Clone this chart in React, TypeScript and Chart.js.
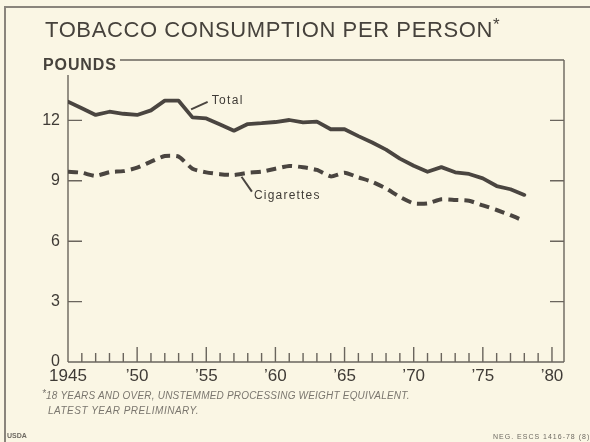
import React, { useEffect, useRef } from 'react';
import { Chart, registerables } from 'chart.js';

Chart.register(...registerables);

// ---- Data ----
const years = [
  1945, 1946, 1947, 1948, 1949, 1950, 1951, 1952, 1953, 1954, 1955, 1956,
  1957, 1958, 1959, 1960, 1961, 1962, 1963, 1964, 1965, 1966, 1967, 1968,
  1969, 1970, 1971, 1972, 1973, 1974, 1975, 1976, 1977, 1978,
];
const totalValues = [
  12.93, 12.6, 12.27, 12.43, 12.33, 12.27, 12.5, 12.98, 12.98, 12.15, 12.1, 11.8,
  11.49, 11.82, 11.86, 11.92, 12.02, 11.9, 11.94, 11.56, 11.56, 11.22, 10.9, 10.55,
  10.1, 9.75, 9.45, 9.68, 9.42, 9.34, 9.12, 8.74, 8.58, 8.3,
];
const cigaretteValues = [
  9.45, 9.4, 9.24, 9.43, 9.48, 9.65, 9.95, 10.23, 10.2, 9.6, 9.42, 9.33,
  9.29, 9.4, 9.45, 9.6, 9.74, 9.67, 9.54, 9.22, 9.4, 9.17, 8.95, 8.62,
  8.2, 7.88, 7.88, 8.08, 8.05, 8.01, 7.78, 7.55, 7.29, 7.0,
];
const yTickValues = [0, 3, 6, 9, 12];
const xLabelYears = [1945, 1950, 1955, 1960, 1965, 1970, 1975, 1980];
const xLabels = ['1945', '\u201950', '\u201955', '\u201960', '\u201965', '\u201970', '\u201975', '\u201980'];
const minorTickYears = [
  1946, 1947, 1948, 1949, 1950, 1951, 1952, 1953, 1954, 1955, 1956, 1957, 1958,
  1959, 1960, 1961, 1962, 1963, 1964, 1965, 1966, 1967, 1968, 1969, 1970, 1971,
  1972, 1973, 1974, 1975, 1976, 1977, 1978, 1979, 1980,
];

// label anchors in data coordinates: [x, y]
const totalLabel = { text: 'Total', from: [1953.9, 12.55], to: [1955.1, 12.92], at: [1955.4, 12.97] };
const cigLabel = { text: 'Cigarettes', from: [1957.55, 9.2], to: [1958.3, 8.46], at: [1958.45, 8.27] };

const BG = '#faf6e4';
const INK = '#4a4540';
const AXIS = '#6a655d';
const TEXT = '#3f3b36';

const framePlugin = {
  id: 'frameTicks',
  beforeDatasetsDraw(chart: any) {
    const { ctx, chartArea } = chart;
    const xs = chart.scales.x;
    const ys = chart.scales.y;
    const { left, right, top, bottom } = chartArea;
    ctx.save();
    ctx.strokeStyle = AXIS;
    ctx.lineWidth = 1.4;
    ctx.beginPath();
    // left axis (starts a little below the top rule)
    ctx.moveTo(left, top + 15);
    ctx.lineTo(left, bottom);
    // bottom axis
    ctx.moveTo(left, bottom);
    ctx.lineTo(right, bottom);
    // right border
    ctx.moveTo(right, top);
    ctx.lineTo(right, bottom);
    // top rule, starting after the "POUNDS" label
    ctx.moveTo(120, top);
    ctx.lineTo(right, top);
    // inward y ticks, both sides
    yTickValues.forEach((v) => {
      if (v === 0) return;
      const y = ys.getPixelForValue(v);
      ctx.moveTo(left, y);
      ctx.lineTo(left + 14, y);
      ctx.moveTo(right, y);
      ctx.lineTo(right - 14, y);
    });
    // inward x ticks, yearly, taller every five years
    minorTickYears.forEach((yr) => {
      const x = xs.getPixelForValue(yr);
      const len = yr % 5 === 0 ? 15 : 9;
      ctx.moveTo(x, bottom);
      ctx.lineTo(x, bottom - len);
    });
    ctx.stroke();
    ctx.restore();
  },
  afterDatasetsDraw(chart: any) {
    const { ctx } = chart;
    const xs = chart.scales.x;
    const ys = chart.scales.y;
    ctx.save();
    ctx.strokeStyle = INK;
    ctx.fillStyle = TEXT;
    ctx.lineWidth = 2;
    [totalLabel, cigLabel].forEach((l) => {
      ctx.beginPath();
      ctx.moveTo(xs.getPixelForValue(l.from[0]), ys.getPixelForValue(l.from[1]));
      ctx.lineTo(xs.getPixelForValue(l.to[0]), ys.getPixelForValue(l.to[1]));
      ctx.stroke();
      ctx.font = '12px "Liberation Sans", Arial, sans-serif';
      (ctx as any).letterSpacing = l.text === 'Total' ? '1.3px' : '1.2px';
      ctx.textBaseline = 'middle';
      ctx.textAlign = 'left';
      ctx.fillText(l.text, xs.getPixelForValue(l.at[0]), ys.getPixelForValue(l.at[1]));
    });
    ctx.restore();
  },
};

function TobaccoChart() {
  const ref = useRef<HTMLCanvasElement | null>(null);
  useEffect(() => {
    if (!ref.current) return;
    const chart = new Chart(ref.current, {
      type: 'line',
      data: {
        datasets: [
          {
            label: 'Total',
            data: years.map((y, i) => ({ x: y, y: totalValues[i] })),
            borderColor: INK,
            borderWidth: 3.8,
            pointRadius: 0,
            tension: 0,
            borderJoinStyle: 'round',
            borderCapStyle: 'round',
            fill: false,
          },
          {
            label: 'Cigarettes',
            data: years.map((y, i) => ({ x: y, y: cigaretteValues[i] })),
            borderColor: INK,
            borderWidth: 4,
            borderDash: [10, 6],
            pointRadius: 0,
            tension: 0.2,
            borderCapStyle: 'butt',
            fill: false,
          },
        ],
      },
      options: {
        animation: false,
        responsive: false,
        devicePixelRatio: 1,
        layout: { padding: { left: 0, top: 60, right: 26, bottom: 0 } },
        plugins: { legend: { display: false }, tooltip: { enabled: false }, title: { display: false } },
        scales: {
          x: {
            type: 'linear',
            min: 1945,
            max: 1980.87,
            afterBuildTicks: (scale: any) => {
              scale.ticks = xLabelYears.map((v) => ({ value: v }));
            },
            afterFit: (scale: any) => {
              scale.height = 80;
            },
            ticks: {
              autoSkip: false,
              maxRotation: 0,
              padding: 4,
              color: TEXT,
              font: { family: '"Liberation Sans", Arial, sans-serif', size: 17 },
              callback: (v: any) => {
                const i = xLabelYears.indexOf(Number(v));
                return i >= 0 ? xLabels[i] : '';
              },
            },
            grid: { display: false, drawTicks: false },
            border: { display: false },
          },
          y: {
            type: 'linear',
            min: 0,
            max: 15,
            afterBuildTicks: (scale: any) => {
              scale.ticks = yTickValues.map((v) => ({ value: v }));
            },
            afterFit: (scale: any) => {
              scale.width = 68;
            },
            ticks: {
              padding: 8,
              color: TEXT,
              font: { family: '"Liberation Sans", Arial, sans-serif', size: 16 },
            },
            grid: { display: false, drawTicks: false },
            border: { display: false },
          },
        },
      },
      plugins: [framePlugin],
    } as any);
    return () => chart.destroy();
  }, []);
  return <canvas ref={ref} width={590} height={442} style={{ position: 'absolute', left: 0, top: 0, width: 590, height: 442 }} />;
}

export default function App() {
  const base: React.CSSProperties = {
    position: 'absolute',
    fontFamily: '"Liberation Sans", Arial, sans-serif',
    whiteSpace: 'nowrap',
    margin: 0,
  };
  return (
    <div style={{ position: 'absolute', left: 0, top: 0, width: 590, height: 442, background: BG, overflow: 'hidden' }}>
      {/* outer frame */}
      <div style={{ position: 'absolute', left: 4, top: 6, width: 600, height: 500, borderLeft: '2px solid #8a857c', borderTop: '2px solid #8a857c' }} />
      <TobaccoChart />
      <div style={{ ...base, left: 45, top: 19, fontSize: 22, lineHeight: '22px', letterSpacing: '0.6px', color: '#46423c' }}>
        TOBACCO CONSUMPTION PER PERSON
        <span style={{ position: 'relative', top: -7, fontSize: 17, letterSpacing: 0 }}>*</span>
      </div>
      <div style={{ ...base, left: 43, top: 57, fontSize: 16, lineHeight: '16px', fontWeight: 'bold', letterSpacing: '0.9px', color: '#46423c' }}>
        POUNDS
      </div>
      <div style={{ ...base, left: 42, top: 391, fontSize: 10, lineHeight: '10px', fontStyle: 'italic', letterSpacing: '0.2px', color: '#7a766e' }}>
        <span style={{ position: 'relative', top: -2 }}>*</span>18 YEARS AND OVER, UNSTEMMED PROCESSING WEIGHT EQUIVALENT.
      </div>
      <div style={{ ...base, left: 48, top: 406, fontSize: 10, lineHeight: '10px', fontStyle: 'italic', letterSpacing: '0.5px', color: '#7a766e' }}>
        LATEST YEAR PRELIMINARY.
      </div>
      <div style={{ ...base, left: 7, top: 432, fontSize: 7, lineHeight: '7px', fontWeight: 'bold', color: '#6e6a62' }}>
        USDA
      </div>
      <div style={{ ...base, left: 493, top: 433, fontSize: 7, lineHeight: '7px', letterSpacing: '1px', color: '#6e6a62' }}>
        NEG. ESCS 1416-78 (8)
      </div>
    </div>
  );
}
